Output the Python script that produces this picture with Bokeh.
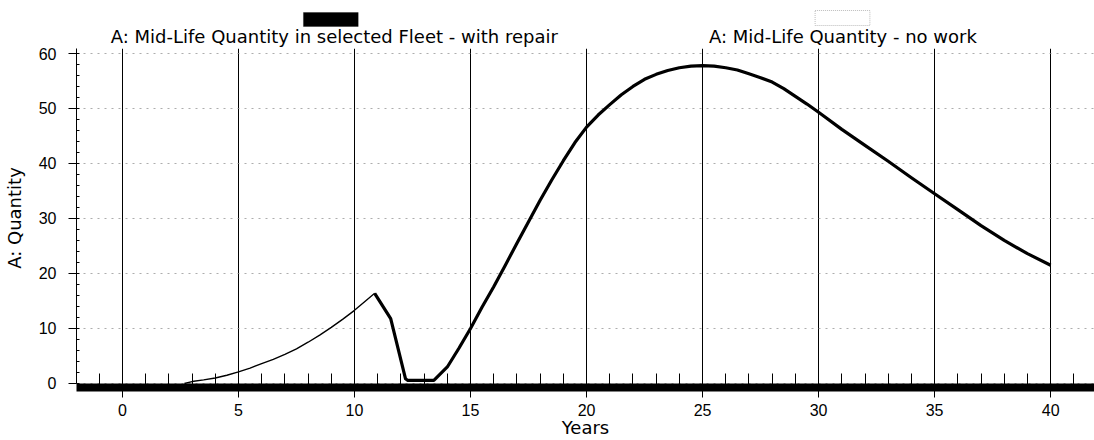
from bokeh.plotting import figure
from bokeh.layouts import column
from bokeh.models import Range1d, SingleIntervalTicker, Label, BoxAnnotation
from bokeh.embed import file_html
from bokeh.resources import INLINE

# ---- data ----
# thin early part of the curve (before the repair peak)
early_years = [2.67, 3, 3.5, 4, 4.5, 5, 5.5, 6, 6.5, 7, 7.5, 8, 8.5, 9, 9.5, 10,
               10.5, 10.87]
early_qty = [0.0, 0.35, 0.65, 1.0, 1.5, 2.1, 2.8, 3.6, 4.4, 5.3, 6.3, 7.5, 8.8,
             10.2, 11.7, 13.3, 15.1, 16.4]

# thick part: Mid-Life Quantity in selected Fleet - with repair
repair_years = [10.87, 11.56, 12.2, 12.3, 13.42, 14, 14.5, 15, 15.5, 16, 16.5, 17,
                17.5, 18, 18.5, 19, 19.5, 20, 20.5, 21, 21.5, 22, 22.5, 23, 23.5,
                24, 24.5, 25, 25.5, 26, 26.5, 27, 27.5, 28, 28.5, 29, 29.5, 30,
                31, 32, 33, 34, 35, 36, 37, 38, 39, 40]
repair_qty = [16.4, 11.8, 0.85, 0.55, 0.55, 3.0, 6.4, 10.0, 13.9, 17.6, 21.5, 25.5,
              29.4, 33.3, 37.0, 40.5, 43.8, 46.6, 48.8, 50.7, 52.5, 54.0, 55.3,
              56.2, 56.9, 57.4, 57.7, 57.8, 57.7, 57.4, 57.0, 56.3, 55.6, 54.8,
              53.6, 52.2, 50.8, 49.3, 46.2, 43.3, 40.4, 37.4, 34.5, 31.6, 28.7,
              26.0, 23.6, 21.5]

series_names = ["A: Mid-Life Quantity in selected Fleet - with repair",
                "A: Mid-Life Quantity - no work"]
x_title = "Years"
y_title = "A: Quantity"
x_tick_step = 5
y_tick_step = 10

x_range = Range1d(-1.98, 41.89)

# ---------------- legend strip (swatch above each series name) ----------------
top = figure(width=1094, height=47, output_backend="svg", toolbar_location=None,
             x_range=x_range, y_range=Range1d(0, 47),
             x_axis_type=None, y_axis_type=None,
             min_border_left=73, min_border_right=0, min_border_top=0,
             min_border_bottom=0)
top.outline_line_color = None
top.background_fill_color = "white"
top.border_fill_color = "white"

top.add_layout(BoxAnnotation(left=7.80, right=10.16, bottom=21, top=35,
                             fill_color="black", fill_alpha=1, line_color="black"))
top.add_layout(BoxAnnotation(left=29.85, right=32.21, bottom=22, top=37,
                             fill_alpha=0, line_color="#222222", line_width=1,
                             line_dash="1 1"))
top.add_layout(Label(x=9.13, y=11, text=series_names[0], text_align="center",
                     text_baseline="alphabetic", text_font="DejaVu Sans",
                     text_font_size="18px", text_color="black"))
top.add_layout(Label(x=31.05, y=11, text=series_names[1], text_align="center",
                     text_baseline="alphabetic", text_font="DejaVu Sans",
                     text_font_size="18px", text_color="black"))

# ---------------- main plot ----------------
p = figure(width=1094, height=393, output_backend="svg", toolbar_location=None,
           x_range=x_range, y_range=Range1d(-0.73, 60.9),
           min_border_left=73, min_border_right=0, min_border_top=1,
           min_border_bottom=53)
p.outline_line_color = None
p.background_fill_color = "white"
p.border_fill_color = "white"

# x axis: thick black bar with inward minor ticks
xa = p.xaxis[0]
xa.ticker = SingleIntervalTicker(interval=x_tick_step, num_minor_ticks=5)
xa.axis_line_width = 8
xa.axis_line_color = "black"
xa.major_tick_out = 10
xa.major_tick_in = 0
xa.major_tick_line_color = "black"
xa.minor_tick_in = 14
xa.minor_tick_out = 0
xa.minor_tick_line_color = "black"
xa.major_label_text_font = "Liberation Sans"
xa.major_label_text_font_size = "16px"
xa.major_label_text_color = "black"
xa.major_label_standoff = 6
xa.axis_label = x_title
xa.axis_label_text_font = "DejaVu Sans"
xa.axis_label_text_font_size = "18px"
xa.axis_label_text_font_style = "normal"
xa.axis_label_text_color = "black"
xa.axis_label_standoff = -2

ya = p.yaxis[0]
ya.ticker = SingleIntervalTicker(interval=y_tick_step, num_minor_ticks=5)
ya.bounds = (0, 60.9)
ya.axis_line_color = "black"
ya.major_tick_out = 8
ya.major_tick_in = 0
ya.major_tick_line_color = "black"
ya.minor_tick_in = 3
ya.minor_tick_out = 0
ya.minor_tick_line_color = "black"
ya.major_label_text_font = "Liberation Sans"
ya.major_label_text_font_size = "16px"
ya.major_label_text_color = "black"
ya.major_label_standoff = 12
ya.axis_label = y_title
ya.axis_label_text_font = "DejaVu Sans"
ya.axis_label_text_font_size = "18px"
ya.axis_label_text_font_style = "normal"
ya.axis_label_text_color = "black"
ya.axis_label_standoff = 11

p.xgrid.grid_line_color = "black"
p.xgrid.grid_line_width = 1
p.ygrid.grid_line_color = "#8a8a8a"
p.ygrid.grid_line_dash = "2 5"
p.ygrid.grid_line_alpha = 0.7

p.line(early_years, early_qty, line_color="black", line_width=1.4)
p.line(repair_years, repair_qty, line_color="black", line_width=3.2,
       line_join="round")

layout = column(top, p, spacing=0)
open("out.html", "w").write(file_html(layout, INLINE))
